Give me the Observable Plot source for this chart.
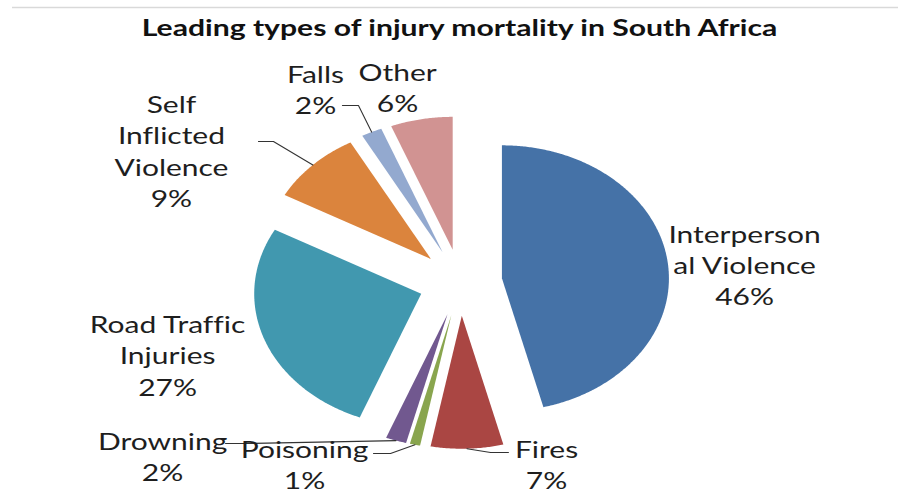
<!DOCTYPE html>
<html><head><meta charset="utf-8">
<script src="https://cdn.jsdelivr.net/npm/d3@7"></script>
<script src="https://cdn.jsdelivr.net/npm/@observablehq/plot@0.6"></script>
<style>html,body{margin:0;padding:0;background:#fff;} svg text{font-variant-ligatures:none;}</style>
</head><body><div id="chart"></div>
<script>
// ---- data ----
const title = "Leading types of injury mortality in South Africa";
const categories = ["Interpersonal Violence","Fires","Poisoning","Drowning","Road Traffic Injuries","Self Inflicted Violence","Falls","Other"];
const shares = [46, 7, 1, 2, 27, 9, 2, 6];
const labelLines = [["Interperson","al Violence"],["Fires"],["Poisoning"],["Drowning"],["Road Traffic","Injuries"],["Self","Inflicted","Violence"],["Falls"],["Other"]];
const colors = ["#4572A7","#AA4643","#89A54E","#71588F","#4198AF","#DB843D","#93A9CF","#D19392"];

// ---- layout (unit-radius coordinates, y up) ----
const explode = 0.25;
const labelPos = [[1.701,0.139],[0.515,-1.361],[-0.934,-1.361],[-1.784,-1.301],[-1.754,-0.541],[-1.731,0.996],[-0.868,1.459],[-0.377,1.474]];
// leader: [kneeX, kneeY, endX] (end shares knee's y)
const leaders = [null,[0.180,-1.278,0.287],[-0.419,-1.286,-0.521],[-1.287,-1.211,-1.407],null,[-1.120,1.060,-1.210],[-0.611,1.331,-0.707],null];

const data = categories.map((c,i)=>({name:c, share:shares[i], color:colors[i], lines:labelLines[i]}));
const arcs = d3.pie().sort(null).value(d=>d.share)(data);

const polys = [];
const leaderPts = [];
const labels = [];
arcs.forEach((a,i)=>{
  const d = a.data;
  const m = (a.startAngle + a.endAngle)/2;
  const ox = explode*Math.sin(m), oy = explode*Math.cos(m);
  polys.push({name:d.name, color:d.color, x:ox, y:oy});
  const n = Math.max(2, Math.ceil((a.endAngle-a.startAngle)/(Math.PI/360)));
  for (let k=0;k<=n;k++){
    const t = a.startAngle + (a.endAngle-a.startAngle)*k/n;
    polys.push({name:d.name, color:d.color, x:ox+Math.sin(t), y:oy+Math.cos(t)});
  }
  polys.push({name:d.name, color:d.color, x:ox, y:oy});
  const L = leaders[i];
  if (L){
    const r = 1+explode;
    leaderPts.push({name:d.name, x:r*Math.sin(m), y:r*Math.cos(m)});
    leaderPts.push({name:d.name, x:L[0], y:L[1]});
    leaderPts.push({name:d.name, x:L[2], y:L[1]});
  }
  labels.push({text:[...d.lines, d.share+"%"].join("\n"), x:labelPos[i][0], y:labelPos[i][1]});
});

const cx = 460, cy = 282, rx = 167, ry = 133, W = 898, H = 498;
const plot = Plot.plot({
  width: W, height: H, margin: 0,
  x: {domain: [-cx/rx, (W-cx)/rx], axis: null},
  y: {domain: [(cy-H)/ry, cy/ry], axis: null},
  marks: [
    Plot.ruleY([(cy-7)/ry], {x1: (12-cx)/rx, x2: (W-cx)/rx, stroke: "#d9d9d9", strokeWidth: 1.5}),
    Plot.line(polys, {x:"x", y:"y", z:"name", fill:"color", stroke:"none", curve:"linear"}),
    Plot.line(leaderPts, {x:"x", y:"y", z:"name", stroke:"#333", strokeWidth:1.1}),
    Plot.text(labels, {x:"x", y:"y", text:"text", fontSize:24, lineHeight:1.3, fill:"#1e1e1e", textAnchor:"middle", lineAnchor:"middle", fontFamily:"Lato", className:"lbl"}),
    Plot.text([title], {frameAnchor:"top", dx:10, dy:28, fontSize:22, fontWeight:"bold", fill:"#111", lineAnchor:"middle", fontFamily:"Lato", className:"ttl"})
  ]
});
plot.style.fontFamily = "Lato";
const stretch = (sel, s) => plot.querySelectorAll(sel + " text").forEach(t=>{
  const tr = t.getAttribute("transform") || "";
  t.setAttribute("transform", tr + ` scale(${s},1)`);
});
stretch(".lbl", 1.25);
stretch(".ttl", 1.37);
document.getElementById("chart").appendChild(plot);
</script>
</body></html>
